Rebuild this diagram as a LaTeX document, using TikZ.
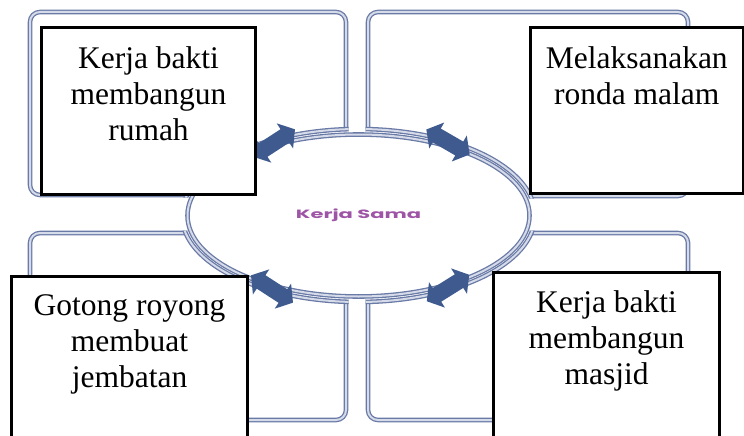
\documentclass[tikz,border=0pt]{standalone}
\usepackage{fontspec}
\usepackage{graphicx}
\setmainfont{Liberation Serif}
\newfontfamily\ksfont{Poppins}
\definecolor{arrowblue}{HTML}{3E5A8E}
\definecolor{frameout}{HTML}{6A7AA6}
\definecolor{framein}{HTML}{D6DBE9}
\definecolor{ksviolet}{HTML}{9E55A6}
\begin{document}
\begin{tikzpicture}[x=1pt,y=-1pt,
  frame/.style={draw=frameout, double=framein, line width=1.3pt, double distance=2pt},
  panel/.style={frame, fill=white, rounded corners=10pt},
  box/.style={draw=black, line width=3pt, fill=white, inner sep=0pt, anchor=north west},
  boxtext/.style={font=\fontsize{31.5}{36}\selectfont, align=center, inner sep=0pt, anchor=north},
  dblarr/.pic={\fill[arrowblue] (-25,0) -- (-13,-15) -- (-13,-8) -- (13,-8) -- (13,-15) -- (25,0) -- (13,15) -- (13,8) -- (-13,8) -- (-13,15) -- cycle;}]
\clip (0,0) rectangle (744,436);
\fill[white] (0,0) rectangle (744,436);
% background panels
\draw[panel] (30,12) rectangle (346,195);
\draw[panel] (368,12) rectangle (688,196);
\draw[panel] (30,233) rectangle (346,420);
\draw[panel] (368,233) rectangle (688,420);
% cut-outs of the panels around the ring
\begin{scope}
  \clip (27.5,9.5) rectangle (348.5,197.5)
        (365.5,9.5) rectangle (690.5,198.5)
        (27.5,230.5) rectangle (348.5,422.5)
        (365.5,230.5) rectangle (690.5,422.5);
  \draw[frame, fill=white] (358.5,215.5) ellipse [x radius=176.5, y radius=86.5];
\end{scope}
% central ellipse
\draw[frame, fill=white] (358.5,215.5) ellipse [x radius=171, y radius=81];
\node[inner sep=0pt, text=ksviolet, font=\ksfont\bfseries\fontsize{12}{14}\selectfont] (ks) at (358.5,215.5) {\scalebox{1.75}[1]{Kerja Sama}};
% arrows
\pic[rotate=33] at (274,143) {dblarr};
\pic[rotate=-30] at (448,142) {dblarr};
\pic[rotate=-33] at (272,289) {dblarr};
\pic[rotate=32] at (448,288) {dblarr};
% text boxes
\node[box, minimum width=214pt, minimum height=166pt] (tl) at (40,26.5) {};
\node[box, minimum width=213.5pt, minimum height=165pt] (tr) at (528.5,26.5) {};
\node[box, minimum width=236pt, minimum height=176pt] (bl) at (10,274.5) {};
\node[box, minimum width=226pt, minimum height=180pt] (br) at (492,270.5) {};
\node[boxtext] (tlt) at ([yshift=-20pt]tl.north) {Kerja bakti\\membangun\\rumah};
\node[boxtext] (trt) at ([yshift=-20pt]tr.north) {Melaksanakan\\ronda malam};
\node[boxtext] (blt) at ([yshift=-20pt]bl.north) {Gotong royong\\membuat\\jembatan};
\node[boxtext] (brt) at ([yshift=-20pt]br.north) {Kerja bakti\\membangun\\masjid};
\end{tikzpicture}
\end{document}
